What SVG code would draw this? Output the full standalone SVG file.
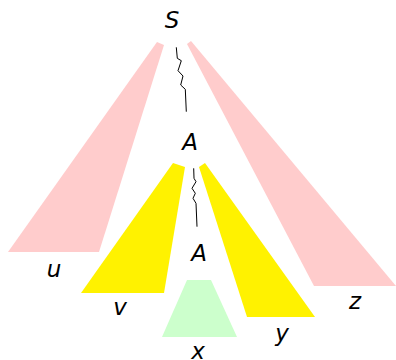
<svg xmlns="http://www.w3.org/2000/svg" width="396" height="360" viewBox="0 0 396 360">
<style>
.lbl{font-family:"DejaVu Sans",sans-serif;font-style:oblique;font-size:23px;fill:#000;text-anchor:middle}
.pink{fill:#ffcccc}
.yel{fill:#fff200}
.grn{fill:#ccffcc}
.zz{fill:none;stroke:#000;stroke-width:1}
</style>
<rect width="396" height="360" fill="#fff"/>
<g id="tri-u"><polygon class="pink" points="157,42 164,45 99,252 8,252"/></g>
<g id="tri-z"><polygon class="pink" points="187,44 191,41 396,286 314,286"/></g>
<g id="tri-v"><polygon class="yel" points="173,163 185,167 164,293 81,293"/></g>
<g id="tri-y"><polygon class="yel" points="199,167 205,163 315,317 247,317"/></g>
<g id="tri-x"><polygon class="grn" points="187,280 211,280 237,337 162,337"/></g>
<g id="connectors">
<polyline class="zz" points="176.3,47.3 177.3,58.3 181.3,60.7 178,70.7 183,76 180.7,85 185.3,89.3 186.3,111.7"/>
<polyline class="zz" points="193.7,168.3 194,178.3 196,181.7 192,188.3 195.3,193.3 193,198.3 196,203.3 197,226.7"/>
</g>
<g id="node-S"><text class="lbl" x="172" y="28">S</text></g>
<g id="node-A1"><text class="lbl" x="190" y="150">A</text></g>
<g id="node-A2"><text class="lbl" x="199" y="261">A</text></g>
<g id="label-u"><text class="lbl" x="54" y="277">u</text></g>
<g id="label-v"><text class="lbl" x="120" y="315">v</text></g>
<g id="label-x"><text class="lbl" x="198" y="359">x</text></g>
<g id="label-y"><text class="lbl" x="282" y="341">y</text></g>
<g id="label-z"><text class="lbl" x="355" y="309">z</text></g>
</svg>
